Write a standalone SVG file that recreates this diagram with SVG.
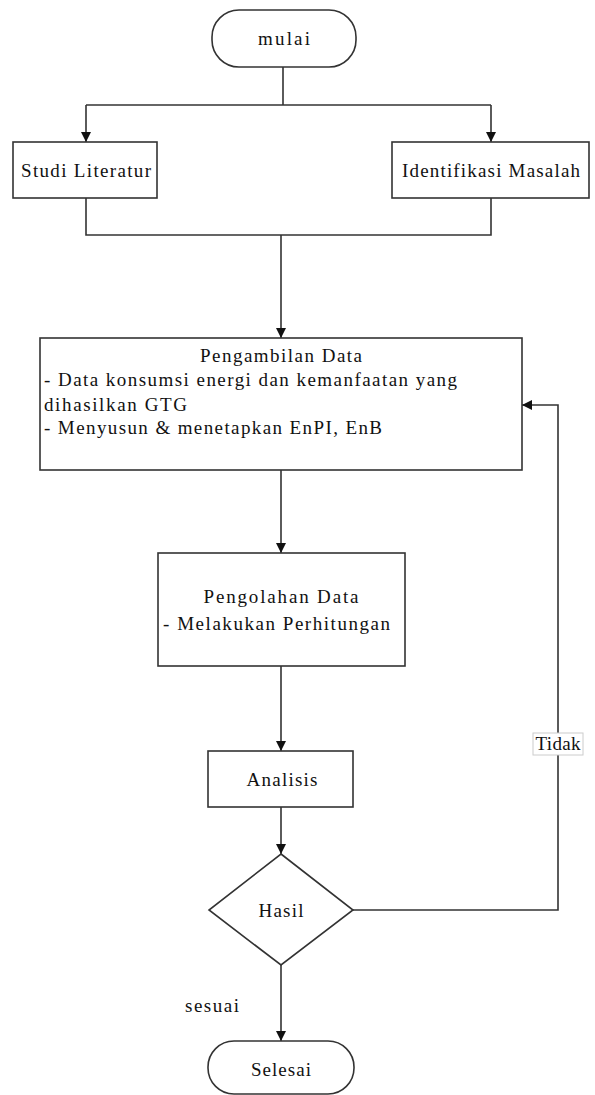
<svg xmlns="http://www.w3.org/2000/svg" width="595" height="1095" viewBox="0 0 595 1095">
<style>
.shape{fill:#fff;stroke:#333;stroke-width:1.6}
.ln{fill:none;stroke:#333;stroke-width:1.6}
.t{font-family:"Liberation Serif","Times New Roman",serif;font-size:19px;fill:#111}
.c{text-anchor:middle}
.lbl{fill:#fff;stroke:#ccc;stroke-width:1}
</style>
<defs>
<marker id="arr" viewBox="0 0 10 10" refX="10" refY="5" markerWidth="10" markerHeight="10" markerUnits="userSpaceOnUse" orient="auto">
<path d="M0,0 L10,5 L0,10 Z" fill="#111"/>
</marker>
</defs>
<rect width="595" height="1095" fill="#fff"/>
<g id="connectors">
<path class="ln" d="M283,67 V105"/>
<path class="ln" d="M86,105 H491"/>
<path class="ln" d="M86,105 V142" marker-end="url(#arr)"/>
<path class="ln" d="M491,105 V142" marker-end="url(#arr)"/>
<path class="ln" d="M86,198 V235 H491 V198"/>
<path class="ln" d="M281,235 V338" marker-end="url(#arr)"/>
<path class="ln" d="M281,470 V553" marker-end="url(#arr)"/>
<path class="ln" d="M281,666 V751" marker-end="url(#arr)"/>
<path class="ln" d="M281,807 V854" marker-end="url(#arr)"/>
<path class="ln" d="M353,910 H558 V405 H522" marker-end="url(#arr)"/>
<path class="ln" d="M281,965 V1041" marker-end="url(#arr)"/>
<g id="label-tidak">
<rect class="lbl" x="533" y="733" width="50" height="22"/>
<text class="t c" x="558" y="750" textLength="45" lengthAdjust="spacing">Tidak</text>
</g>
<text class="t" x="185" y="1012" textLength="54" lengthAdjust="spacing">sesuai</text>
</g>
<g id="mulai">
<rect class="shape" x="212" y="10" width="144" height="57" rx="27" ry="27"/>
<text class="t c" x="284" y="45" textLength="52" lengthAdjust="spacing">mulai</text>
</g>
<g id="studi-literatur">
<rect class="shape" x="13" y="142" width="144" height="56"/>
<text class="t c" x="86" y="177" textLength="130" lengthAdjust="spacing">Studi Literatur</text>
</g>
<g id="identifikasi-masalah">
<rect class="shape" x="392" y="142" width="197" height="56"/>
<text class="t c" x="491" y="177" textLength="178" lengthAdjust="spacing">Identifikasi Masalah</text>
</g>
<g id="pengambilan-data">
<rect class="shape" x="40" y="338" width="482" height="132"/>
<text class="t c" x="281" y="362" textLength="162" lengthAdjust="spacing">Pengambilan Data</text>
<text class="t" x="44" y="386" textLength="413" lengthAdjust="spacing">- Data konsumsi energi dan kemanfaatan yang</text>
<text class="t" x="44" y="411" textLength="143" lengthAdjust="spacing">dihasilkan GTG</text>
<text class="t" x="44" y="434" textLength="338" lengthAdjust="spacing">- Menyusun &amp; menetapkan EnPI, EnB</text>
</g>
<g id="pengolahan-data">
<rect class="shape" x="158" y="553" width="247" height="113"/>
<text class="t c" x="281" y="603" textLength="155" lengthAdjust="spacing">Pengolahan Data</text>
<text class="t" x="163" y="630" textLength="227" lengthAdjust="spacing">- Melakukan Perhitungan</text>
</g>
<g id="analisis">
<rect class="shape" x="208" y="751" width="145" height="56"/>
<text class="t c" x="282" y="786" textLength="71" lengthAdjust="spacing">Analisis</text>
</g>
<g id="hasil">
<path class="shape" d="M281,854 L353,910 L281,965 L209,910 Z"/>
<text class="t c" x="281" y="917" textLength="45" lengthAdjust="spacing">Hasil</text>
</g>
<g id="selesai">
<rect class="shape" x="208" y="1041" width="146" height="53" rx="26" ry="26"/>
<text class="t c" x="281" y="1076" textLength="60" lengthAdjust="spacing">Selesai</text>
</g>
</svg>
